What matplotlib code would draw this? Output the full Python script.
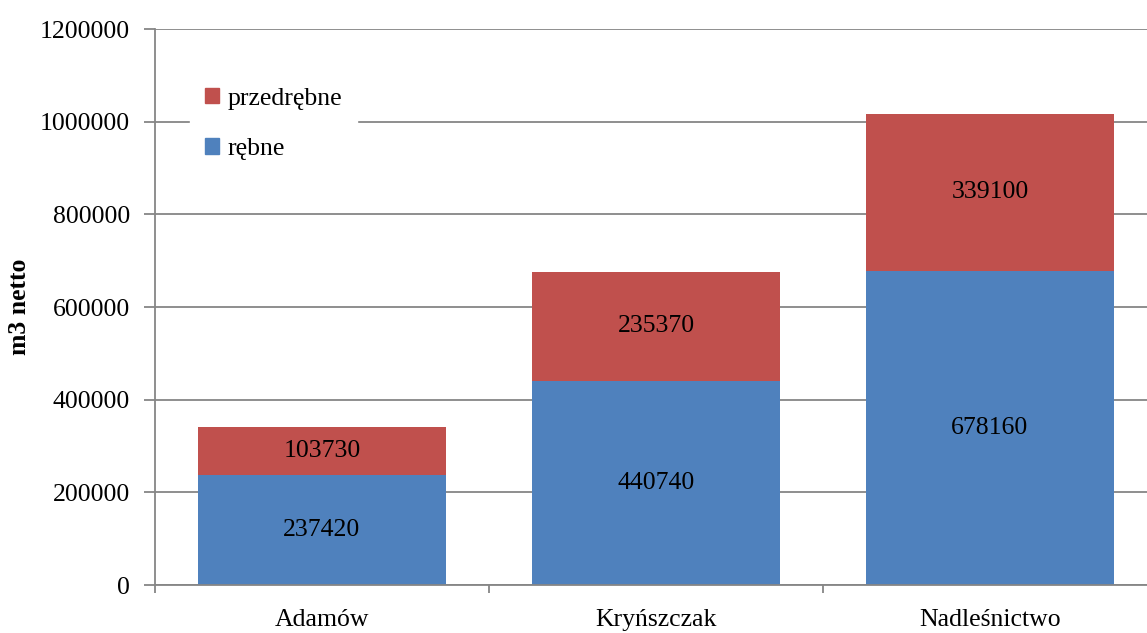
import numpy as np
import matplotlib.pyplot as plt
from matplotlib.patches import Patch

plt.rcParams['font.family'] = ['Liberation Serif', 'DejaVu Serif']

categories = ['Adamów', 'Kryńszczak', 'Nadleśnictwo']
rebne = [237420, 440740, 678160]
przedrebne = [103730, 235370, 339100]
yticks = [0, 200000, 400000, 600000, 800000, 1000000, 1200000]

BLUE = '#4F81BD'
RED = '#C0504D'
GRID = '#868686'
FS = 18.5

fig = plt.figure(figsize=(11.47, 6.33), dpi=100)
ax = fig.add_axes([155 / 1147, 48 / 633, 1002 / 1147, 556 / 633])

x = np.arange(len(categories))
ax.bar(x, rebne, width=0.74, color=BLUE, zorder=2)
ax.bar(x, przedrebne, width=0.74, bottom=rebne, color=RED, zorder=2)

for i in range(len(categories)):
    ax.text(x[i], rebne[i] / 2, str(rebne[i]), ha='center', va='center',
            fontsize=FS, zorder=3)
    ax.text(x[i], rebne[i] + przedrebne[i] / 2, str(przedrebne[i]),
            ha='center', va='center', fontsize=FS, zorder=3)

ax.set_xlim(-0.5, 2.5)
ax.set_ylim(0, 1200000)
ax.set_yticks(yticks)
ax.set_yticklabels([str(v) for v in yticks], fontsize=FS)
ax.yaxis.grid(True, color=GRID, linewidth=1.3, zorder=0)
ax.set_axisbelow(True)

# category labels between boundary ticks
ax.set_xticks([-0.5, 0.5, 1.5, 2.5])
ax.set_xticklabels([])
ax.set_xticks(x, minor=True)
ax.set_xticklabels(categories, minor=True, fontsize=FS)
ax.tick_params(axis='x', which='minor', length=0, pad=17)
ax.tick_params(axis='x', which='major', length=6, color=GRID, width=1.3)
ax.tick_params(axis='y', length=8, color=GRID, width=1.3, pad=10)

for s in ['top', 'right']:
    ax.spines[s].set_visible(False)
for s in ['left', 'bottom']:
    ax.spines[s].set_color(GRID)
    ax.spines[s].set_linewidth(1.3)

ax.set_ylabel('m3 netto', fontsize=FS, fontweight='bold')
ax.yaxis.set_label_coords(-0.1238, 0.5)

handles = [Patch(color=RED, label='przedrębne'), Patch(color=BLUE, label='rębne')]
leg = ax.legend(handles=handles, loc='upper left', bbox_to_anchor=(0.022, 0.945),
                frameon=True, fancybox=False, fontsize=FS, handlelength=0.55,
                handleheight=0.55, handletextpad=0.3, labelspacing=1.1,
                borderpad=0.6)
leg.get_frame().set_edgecolor('white')
leg.get_frame().set_facecolor('white')
leg.get_frame().set_alpha(1)

fig.savefig('out.png', dpi=100)
